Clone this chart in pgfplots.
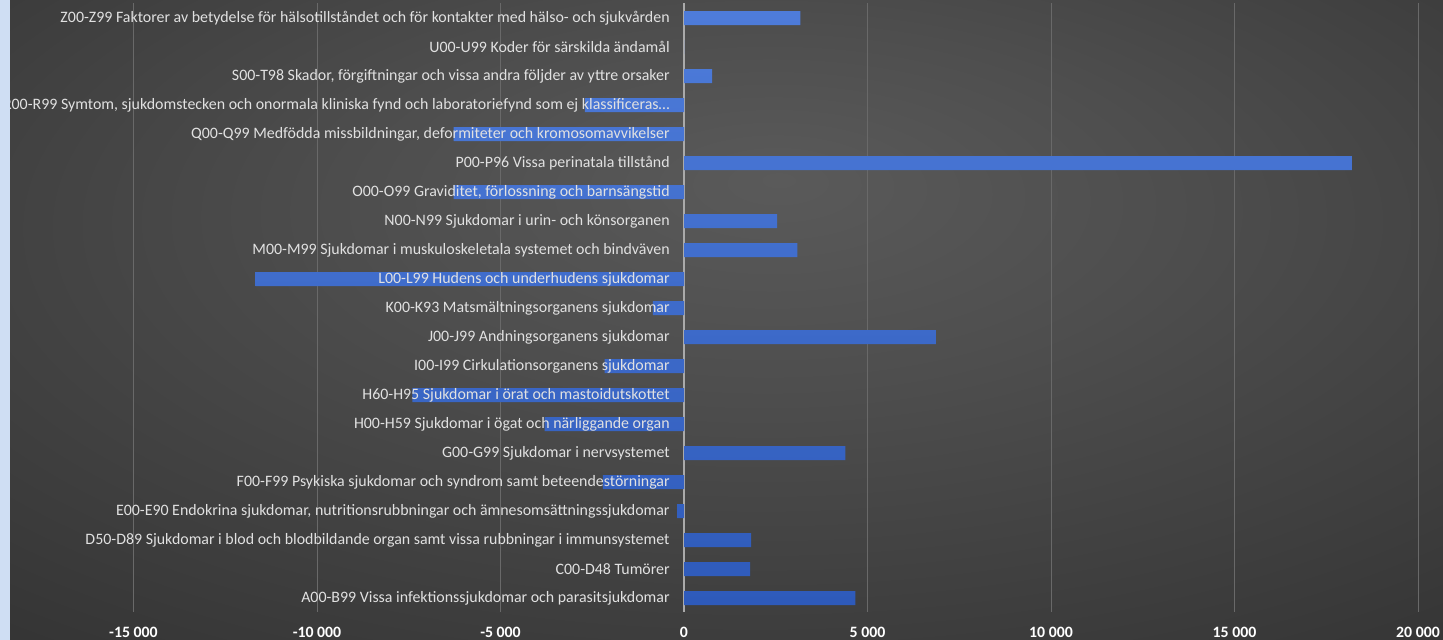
\documentclass[border=0pt]{standalone}
\usepackage{fontspec}
\setmainfont{Carlito}
\usepackage{pgfplots}
\pgfplotsset{compat=1.18}
\definecolor{bgc}{RGB}{90,90,90}
\definecolor{bgm}{RGB}{78,78,78}
\definecolor{bge}{RGB}{44,44,44}
\definecolor{bgo}{RGB}{30,30,30}
\definecolor{strip}{RGB}{207,222,243}
\definecolor{barT}{RGB}{78,124,218}
\definecolor{barB}{RGB}{46,90,186}
\definecolor{labc}{RGB}{225,225,225}
\definecolor{gridc}{RGB}{105,105,105}
\definecolor{zeroc}{RGB}{170,170,170}
\pgfdeclareradialshading{bgshade}{\pgfpoint{2bp}{11bp}}%
  {color(0bp)=(bgc); color(14bp)=(bgm); color(48bp)=(bge); color(72bp)=(bgo)}
\pgfplotsset{frame/.style={at={(0.2cm,0.56cm)}, anchor=south west,
  scale only axis, width=28.66cm, height=12.18cm,
  xmin=-18365, xmax=20681, ymin=-0.48, ymax=20.52, clip=false,
  axis line style={draw=none}, major tick length=0pt}}

\begin{document}
\begin{tikzpicture}
\shade[shading=bgshade] (0,0) rectangle (28.86cm,12.8cm);
% bars and grid
\begin{axis}[frame,
  xmajorgrids, grid style={gridc,line width=0.5pt},
  extra x ticks={0}, extra x tick labels={},
  extra x tick style={grid style={zeroc,line width=0.9pt}},
  xtick={-15000,-10000,-5000,0,5000,10000,15000,20000},
  xticklabels={-15 000,-10 000,-5 000,0,5 000,10 000,15 000,20 000},
  xticklabel style={font=\bfseries\fontsize{9}{10}\selectfont,text=white,
    inner sep=0pt,yshift=-0.29cm},
  ytick=\empty]
\addplot[xbar, bar width=0.28cm, draw=none, top color=barT, bottom color=barB]
  coordinates {
  (4670,0) (1800,1) (1830,2) (-190,3) (-2210,4) (4400,5) (-3800,6)
  (-7400,7) (-2160,8) (6860,9) (-850,10) (-11670,11) (3090,12)
  (2540,13) (-6280,14) (18220,15) (-6280,16) (-2700,17) (765,18)
  (0,19) (3170,20)};
\end{axis}
% category names, set over the bars
\begin{axis}[frame, xtick=\empty,
  ytick={0,1,2,3,4,5,6,7,8,9,10,11,12,13,14,15,16,17,18,19,20},
  yticklabels={{A00-B99 Vissa infektionssjukdomar och parasitsjukdomar},
    {C00-D48 Tumörer},
    {D50-D89 Sjukdomar i blod och blodbildande organ samt vissa rubbningar i immunsystemet},
    {E00-E90 Endokrina sjukdomar, nutritionsrubbningar och ämnesomsättningssjukdomar},
    {F00-F99 Psykiska sjukdomar och syndrom samt beteendestörningar},
    {G00-G99 Sjukdomar i nervsystemet},
    {H00-H59 Sjukdomar i ögat och närliggande organ},
    {H60-H95 Sjukdomar i örat och mastoidutskottet},
    {I00-I99 Cirkulationsorganens sjukdomar},
    {J00-J99 Andningsorganens sjukdomar},
    {K00-K93 Matsmältningsorganens sjukdomar},
    {L00-L99 Hudens och underhudens sjukdomar},
    {M00-M99 Sjukdomar i muskuloskeletala systemet och bindväven},
    {N00-N99 Sjukdomar i urin- och könsorganen},
    {O00-O99 Graviditet, förlossning och barnsängstid},
    {P00-P96 Vissa perinatala tillstånd},
    {Q00-Q99 Medfödda missbildningar, deformiteter och kromosomavvikelser},
    {R00-R99 Symtom, sjukdomstecken och onormala kliniska fynd och laboratoriefynd som ej klassificeras…},
    {S00-T98 Skador, förgiftningar och vissa andra följder av yttre orsaker},
    {U00-U99 Koder för särskilda ändamål},
    {Z00-Z99 Faktorer av betydelse för hälsotillståndet och för kontakter med hälso- och sjukvården}},
  yticklabel style={font=\fontsize{9.05}{10}\selectfont,text=labc,
    anchor=east,inner sep=0pt,xshift=13.2cm}]
\end{axis}
\fill[strip] (0,0) rectangle (0.2cm,12.8cm);
\pgfresetboundingbox
\path[use as bounding box] (0,0) rectangle (28.86cm,12.8cm);
\end{tikzpicture}
\end{document}
